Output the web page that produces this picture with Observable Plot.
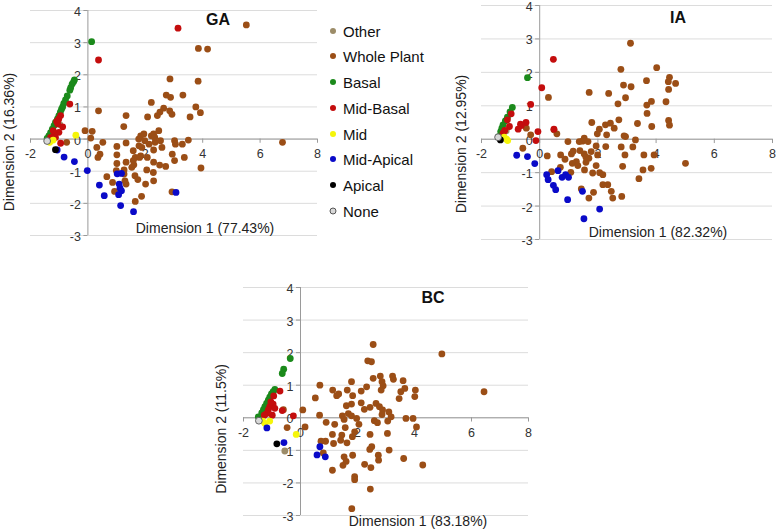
<!DOCTYPE html>
<html><head><meta charset="utf-8">
<script src="https://cdn.jsdelivr.net/npm/d3@7"></script>
<script src="https://cdn.jsdelivr.net/npm/@observablehq/plot@0.6"></script>
<style>
body{margin:0;background:#fff;font-family:"Liberation Sans",Arial,Helvetica,sans-serif;}
#wrap{position:relative;width:778px;height:530px;overflow:hidden;background:#fff;}
.panel{position:absolute;}
.lbl{position:absolute;font-size:14px;color:#222;white-space:nowrap;transform:translate(-50%,-50%);}
.ylbl{position:absolute;font-size:14px;color:#222;white-space:nowrap;transform:translate(-50%,-50%) rotate(-90deg);}
.ttl{position:absolute;font-size:16px;font-weight:bold;color:#111;transform:translate(-50%,-50%);}
.leg{position:absolute;font-size:15px;color:#111;white-space:nowrap;transform:translateY(-50%);}
.legdot{position:absolute;width:6px;height:6px;border-radius:50%;transform:translate(-50%,-50%);}
</style></head>
<body><div id="wrap"></div>
<script>
const categories = ["Other","Whole Plant","Basal","Mid-Basal","Mid","Mid-Apical","Apical","None"];
const colors = ["#9c8c68","#9b4e16","#1b8a1b","#c40d0d","#f5f50a","#0a0ac8","#000000","#d8d8d8"];
const xTicks = [-2,0,2,4,6,8];
const yTicks = [-3,-2,-1,0,1,2,3,4];

// ---- GA ----
const gaOther = [[-0.98,0.45]];
const gaWholePlant = [[5.52,3.55],[6.78,-0.10],[3.85,2.82],[4.17,2.80],[2.86,1.87],[3.84,1.80],[2.73,1.37],[2.88,1.30],[3.31,1.37],[2.21,1.14],[0.37,0.88],[3.76,1.00],[3.92,0.82],[3.56,0.69],[2.64,0.96],[2.51,0.84],[2.42,0.73],[2.85,0.88],[2.93,0.77],[2.08,0.69],[1.33,0.73],[1.25,0.39],[-0.10,0.26],[0.15,0.24],[0.10,0.03],[-0.74,-0.10],[0.52,-0.10],[0.31,-0.26],[0.42,-0.47],[0.35,-0.57],[1.01,-0.23],[1.33,-0.12],[1.01,-0.49],[1.01,-0.76],[0.99,-0.98],[0.66,-1.17],[0.86,-1.35],[0.93,-1.63],[1.33,-1.40],[1.29,-1.30],[1.26,-0.96],[1.33,-0.72],[1.58,-0.36],[1.65,-0.57],[1.60,-0.80],[1.53,-0.88],[1.77,0.00],[1.84,0.10],[1.95,0.16],[1.98,-0.05],[1.88,-0.26],[1.84,-0.52],[1.80,-0.57],[2.07,-0.57],[2.05,-0.96],[2.29,-0.72],[2.29,-0.34],[2.34,-0.10],[2.21,0.10],[2.29,0.16],[2.47,0.26],[2.33,0.05],[2.53,-0.05],[2.58,-0.26],[2.50,-0.81],[2.71,-0.85],[3.02,-0.05],[3.05,-0.16],[2.94,-0.47],[3.02,-0.67],[3.29,-0.16],[3.50,-0.03],[3.36,-0.57],[3.94,-0.90],[1.64,-1.14],[1.74,-1.26],[2.01,-1.40],[2.28,-1.04],[2.29,-1.30],[1.87,-1.78],[1.65,-1.94],[2.93,-1.64],[1.58,-0.67],[1.78,-0.21],[2.13,-0.16],[1.26,-1.09]];
const gaBasal = [[0.13,3.03],[-0.47,1.84],[-0.50,1.78],[-0.55,1.71],[-0.60,1.60],[-0.63,1.52],[-0.72,1.34],[-0.78,1.22],[-0.84,1.11],[-0.88,1.00],[-0.92,0.93],[-0.96,0.84],[-1.01,0.73],[-1.06,0.63],[-1.13,0.52],[-1.18,0.42],[-1.24,0.31],[-1.30,0.20],[-1.36,0.10],[-1.42,0.02]];
const gaMidBasal = [[3.14,3.45],[0.37,2.46],[-0.63,1.09],[-0.95,0.73],[-1.09,0.55],[-0.88,0.38],[-1.05,0.47],[-1.01,0.21],[-1.16,0.16],[-0.95,-0.13],[-1.21,0.26],[-1.13,0.05],[-1.30,0.05],[-1.02,0.62]];
const gaMid = [[-0.42,0.12],[-1.21,-0.03],[-1.33,-0.10]];
const gaMidApical = [[-1.07,-0.34],[-0.83,-0.56],[-0.47,-0.70],[-0.02,-0.98],[0.40,-1.43],[0.57,-1.76],[1.02,-1.08],[1.17,-1.07],[1.09,-1.40],[1.12,-1.53],[1.17,-1.61],[1.07,-1.73],[1.14,-2.07],[1.59,-2.26],[3.07,-1.66]];
const gaApical = [[-1.13,-0.33]];
const gaNone = [[-1.42,-0.06]];

// ---- IA ----
const iaOther = [[-1.15,0.25]];
const iaWholePlant = [[3.12,2.87],[2.79,2.09],[4.02,2.14],[3.67,1.75],[4.46,1.85],[4.42,1.72],[4.67,1.67],[4.43,1.49],[1.70,1.40],[2.37,1.37],[2.88,1.62],[3.14,1.57],[2.95,1.24],[2.69,1.06],[3.84,1.13],[3.68,1.02],[4.34,1.12],[3.69,0.77],[0.30,1.25],[2.72,0.58],[1.79,0.50],[2.26,0.43],[2.43,0.48],[2.56,0.33],[3.36,0.47],[3.85,0.38],[4.43,0.56],[4.46,0.42],[2.05,0.30],[1.98,0.16],[2.30,0.13],[2.90,0.10],[2.95,0.08],[3.29,-0.02],[3.20,-0.23],[2.80,-0.23],[2.93,-0.47],[3.58,-0.47],[3.93,-0.47],[5.01,-0.72],[3.83,-0.87],[3.55,-0.92],[3.41,-1.18],[2.85,-0.81],[2.27,-0.22],[1.94,-0.20],[1.47,-0.06],[1.36,-0.07],[1.53,0.03],[1.66,-0.07],[0.97,-0.07],[0.59,0.16],[0.49,0.28],[-0.46,0.33],[-0.31,0.13],[-0.58,-0.27],[0.26,-0.50],[0.41,-0.97],[0.71,-0.84],[0.72,-0.47],[0.87,-0.60],[1.09,-0.44],[1.12,-0.72],[1.26,-0.67],[1.31,-0.79],[1.07,-0.99],[1.53,-0.44],[1.59,-0.54],[1.69,-0.57],[1.59,-0.69],[1.54,-0.92],[1.82,-1.01],[1.94,-0.79],[2.06,-1.00],[2.17,-1.06],[2.17,-1.36],[2.34,-1.36],[2.46,-1.56],[2.51,-1.76],[2.82,-1.71],[1.43,-1.49],[1.69,-1.76],[1.85,-1.59],[1.15,-0.36],[1.38,-0.34],[1.77,-0.37],[1.99,-0.47]];
const iaBasal = [[-0.42,1.84],[-0.94,0.95],[-1.02,0.82],[-1.11,0.66],[-1.18,0.55],[-1.26,0.43],[-1.30,0.33],[-1.34,0.23],[-1.41,0.08]];
const iaMidBasal = [[0.47,2.39],[0.07,1.54],[-0.31,1.04],[-0.98,0.76],[-1.11,0.58],[-1.04,0.38],[-0.74,0.30],[-0.66,0.45],[-0.47,0.50],[-0.63,0.41],[-0.06,0.23],[0.49,0.30],[-0.13,-0.04],[-1.20,0.26],[-1.26,0.18]];
const iaMid = [[-1.14,0.00],[-1.22,0.06],[-1.10,-0.04]];
const iaMidApical = [[-0.79,-0.48],[-0.42,-0.52],[-0.17,-0.73],[0.24,-1.06],[0.29,-1.21],[0.63,-0.94],[0.47,-1.38],[0.55,-1.51],[0.77,-1.14],[0.89,-1.06],[0.99,-1.14],[0.96,-1.81],[1.47,-1.56],[2.06,-2.09],[1.52,-2.38]];
const iaApical = [[-1.35,-0.02]];
const iaNone = [[-1.43,0.06]];

// ---- BC ----
const bcOther = [[-0.55,-1.02]];
const bcWholePlant = [[2.55,2.25],[4.96,1.96],[2.36,1.75],[2.49,1.72],[6.44,0.80],[2.80,1.28],[2.55,1.21],[3.23,1.28],[3.26,1.18],[3.60,1.14],[2.86,1.11],[2.90,0.98],[1.79,1.11],[2.32,0.95],[3.66,0.90],[3.52,0.80],[4.03,0.85],[4.01,0.65],[3.46,0.59],[0.68,1.00],[0.52,0.61],[1.13,0.85],[1.27,0.68],[1.34,0.73],[1.64,0.85],[1.83,0.68],[2.13,0.82],[2.83,0.85],[1.61,0.37],[1.79,0.42],[2.13,0.46],[2.24,0.26],[2.44,0.32],[2.65,0.44],[2.77,0.34],[2.88,0.24],[3.10,0.18],[1.68,0.13],[1.47,0.06],[1.79,0.06],[1.97,-0.02],[2.86,0.10],[3.18,0.03],[3.06,-0.10],[3.70,-0.02],[3.95,-0.02],[4.07,-0.28],[2.59,-0.09],[2.70,-0.15],[0.08,0.24],[0.16,-0.28],[0.67,0.08],[0.90,-0.14],[0.72,-0.72],[0.88,-0.72],[0.80,-1.08],[1.12,-1.61],[1.12,-0.51],[1.16,-0.79],[1.45,-0.53],[1.57,-0.30],[1.63,-0.77],[1.41,-0.69],[1.82,-0.58],[1.90,-0.43],[1.53,-1.20],[1.60,-1.34],[1.49,-1.46],[1.83,-1.15],[1.90,-1.81],[1.90,-1.90],[1.80,-2.79],[2.45,-2.19],[2.47,-1.53],[2.43,-0.97],[2.50,-0.89],[2.44,-0.51],[2.25,-1.43],[2.73,-1.15],[2.74,-1.30],[3.05,-0.48],[3.11,-0.99],[3.62,-1.25],[4.29,-1.45],[2.05,-0.20],[-0.47,-0.30],[-0.60,0.25],[1.20,-0.20],[1.53,-0.05]];
const bcBasal = [[-0.36,1.82],[-0.59,1.49],[-0.64,1.36],[-0.90,0.87],[-0.96,0.80],[-1.02,0.73],[-1.08,0.63],[-1.13,0.54],[-1.19,0.44],[-1.25,0.34],[-1.30,0.25],[-1.36,0.15],[-1.48,0.03]];
const bcMidBasal = [[-0.72,0.82],[-0.64,0.22],[-0.25,0.06],[-0.94,0.67],[-0.96,0.42],[-1.08,0.34],[-0.90,0.29],[-0.99,0.08],[-1.13,0.24],[-1.19,0.13],[-1.04,0.49],[-1.27,0.08]];
const bcMid = [[-0.15,-0.51],[-1.33,-0.10],[-1.08,-0.10],[-1.25,-0.17]];
const bcMidApical = [[-1.18,-0.31],[-0.58,-0.76],[0.68,-0.89],[0.58,-1.14],[0.87,-1.20]];
const bcApical = [[-0.83,-0.80]];
const bcNone = [[-1.46,-0.09]];

const wrap = document.getElementById("wrap");
const font = '"Liberation Sans", Arial, Helvetica, sans-serif';

function panel(series, box) {
  const marks = [
    Plot.ruleY(yTicks, {y: d => d, stroke: "#dcdcdc", strokeWidth: 1}),
    Plot.ruleX([0], {x: d => d, y1: -3, y2: 4, stroke: "#9a9a9a"}),
    Plot.ruleY([0], {y: d => d, x1: -2, x2: 8, stroke: "#9a9a9a"}),
    Plot.ruleX(xTicks, {x: d => d, y1: 0, y2: -0.13, stroke: "#9a9a9a"}),
    Plot.ruleY(yTicks, {y: d => d, x1: 0, x2: -0.14, stroke: "#9a9a9a"}),
    Plot.text(xTicks, {x: d => d, y: 0, dy: 15, text: d => String(d), fontSize: 12.5, fill: "#333"}),
    Plot.text(yTicks, {x: 0, y: d => d, dx: -7, dy: 1.5, textAnchor: "end", text: d => String(d), fontSize: 12.5, fill: "#333"})
  ];
  series.forEach((pts, i) => {
    const isNone = categories[i] === "None";
    marks.push(Plot.dot(pts, {x: d => d[0], y: d => d[1], r: 3.4, fill: colors[i],
      stroke: isNone ? "#555" : "none", strokeWidth: isNone ? 0.9 : 0}));
  });
  const svg = Plot.plot({
    width: box.width, height: box.height,
    marginLeft: box.mL, marginRight: box.mR, marginTop: box.mT, marginBottom: box.mB,
    x: {domain: [-2, 8], axis: null},
    y: {domain: [-3, 4], axis: null},
    style: {fontFamily: font, background: "transparent", overflow: "visible"},
    marks
  });
  svg.classList.add("panel");
  svg.style.left = box.left + "px";
  svg.style.top = box.top + "px";
  wrap.appendChild(svg);
}

function addLabel(cls, text, x, y) {
  const d = document.createElement("div");
  d.className = cls;
  d.textContent = text;
  d.style.left = x + "px";
  d.style.top = y + "px";
  wrap.appendChild(d);
}

panel([gaOther, gaWholePlant, gaBasal, gaMidBasal, gaMid, gaMidApical, gaApical, gaNone],
  {left: 0, top: 0, width: 330, height: 245, mL: 30, mR: 13, mT: 10, mB: 10});
panel([iaOther, iaWholePlant, iaBasal, iaMidBasal, iaMid, iaMidApical, iaApical, iaNone],
  {left: 450, top: 0, width: 328, height: 250, mL: 31, mR: 6, mT: 5, mB: 11});
panel([bcOther, bcWholePlant, bcBasal, bcMidBasal, bcMid, bcMidApical, bcApical, bcNone],
  {left: 200, top: 270, width: 340, height: 258, mL: 43, mR: 12, mT: 17, mB: 13});

addLabel("ttl", "GA", 218, 20);
addLabel("ttl", "IA", 678, 18);
addLabel("ttl", "BC", 433, 298);
addLabel("lbl", "Dimension 1 (77.43%)", 205, 228);
addLabel("lbl", "Dimension 1 (82.32%)", 658, 232);
addLabel("lbl", "Dimension 1 (83.18%)", 418, 521);
addLabel("ylbl", "Dimension 2 (16.36%)", 9, 142);
addLabel("ylbl", "Dimension 2 (12.95%)", 461, 144);
addLabel("ylbl", "Dimension 2 (11.5%)", 221, 429);

categories.forEach((c, i) => {
  const y = 30.7 + i * 25.7;
  const dot = document.createElement("div");
  dot.className = "legdot";
  dot.style.left = "333px";
  dot.style.top = y + "px";
  dot.style.background = colors[i];
  if (c === "None") { dot.style.border = "1px solid #555"; dot.style.width = "5px"; dot.style.height = "5px"; }
  wrap.appendChild(dot);
  const t = document.createElement("div");
  t.className = "leg";
  t.textContent = c;
  t.style.left = "343px";
  t.style.top = y + "px";
  wrap.appendChild(t);
});
</script>
</body></html>
